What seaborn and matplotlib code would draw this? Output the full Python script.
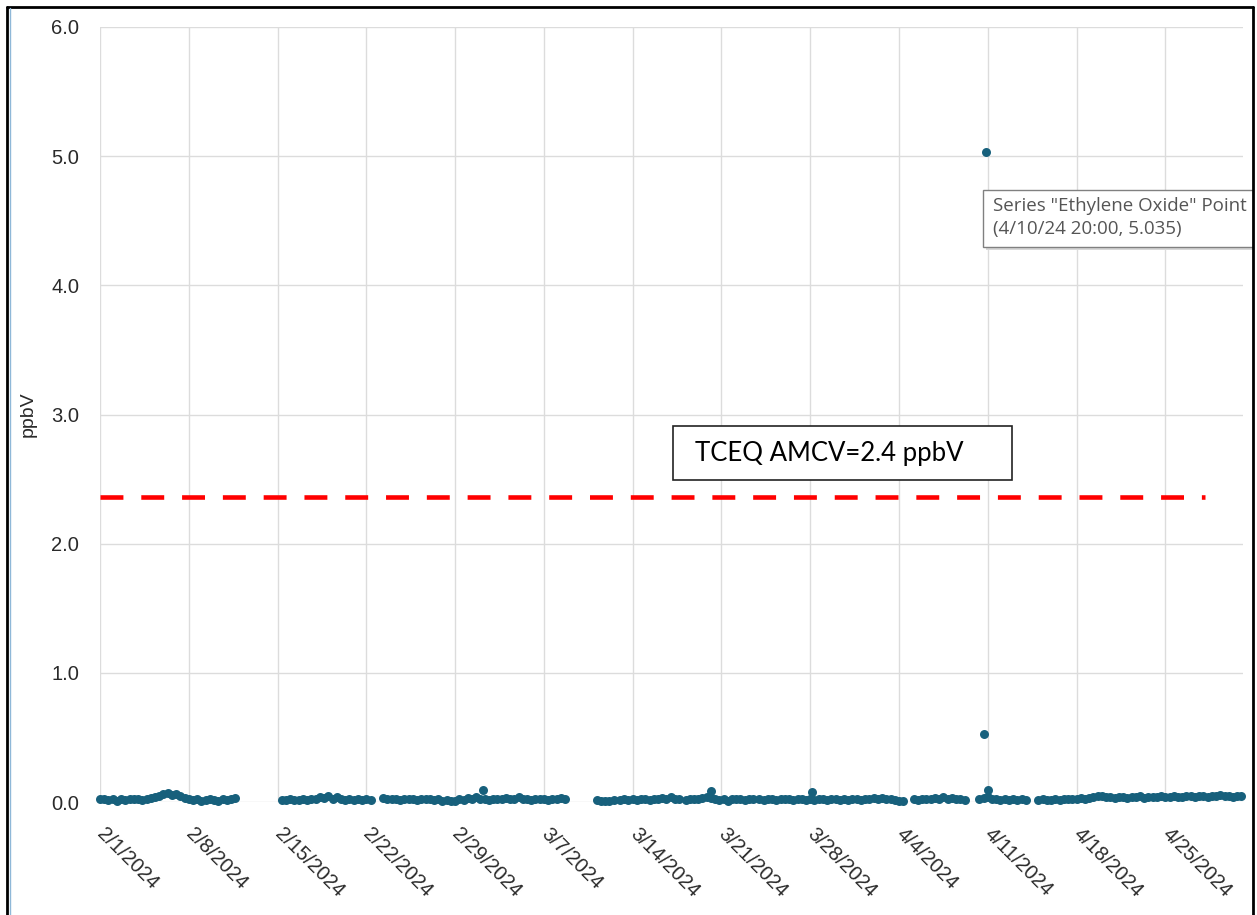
import pandas as pd
import numpy as np
import matplotlib
matplotlib.use('Agg')
import matplotlib.pyplot as plt
import matplotlib.patches as mpatches
from matplotlib.lines import Line2D
import seaborn as sns

# ethylene oxide readings (ppbV), one list per continuous run, 8 h apart
seg_starts = ['2024-02-01 00:00', '2024-02-15 08:00', '2024-02-23 08:00', '2024-03-11 04:00',
              '2024-03-13 00:00', '2024-03-18 04:00', '2024-03-24 00:00', '2024-04-05 04:00',
              '2024-04-10 08:00', '2024-04-15 00:00', '2024-04-19 00:00']
seg_values = [
    [0.02, 0.025, 0.015, 0.02, 0.01, 0.02, 0.015, 0.02, 0.025, 0.02, 0.015, 0.02, 0.03, 0.035,
     0.05, 0.065, 0.07, 0.055, 0.065, 0.045, 0.03, 0.02, 0.015, 0.02, 0.01, 0.015, 0.02, 0.015,
     0.01, 0.02, 0.015, 0.025, 0.03],
    [0.015, 0.015, 0.02, 0.015, 0.015, 0.02, 0.015, 0.02, 0.025, 0.04, 0.03, 0.045, 0.02, 0.035,
     0.02, 0.015, 0.02, 0.015, 0.02, 0.015, 0.02, 0.015],
    [0.03, 0.02, 0.025, 0.02, 0.015, 0.02, 0.025, 0.02, 0.015, 0.02, 0.025, 0.02, 0.015, 0.02,
     0.01, 0.015, 0.005, 0.01, 0.02, 0.015, 0.03, 0.02, 0.035, 0.025, 0.02, 0.015, 0.02, 0.025,
     0.02, 0.03, 0.025, 0.02, 0.035, 0.025, 0.02, 0.015, 0.02, 0.025, 0.02, 0.015, 0.02, 0.025,
     0.03, 0.025],
    [0.015, 0.01, 0.005, 0.01, 0.015],
    [0.015, 0.02, 0.015, 0.02, 0.015, 0.02, 0.02, 0.015, 0.02, 0.025, 0.03, 0.02, 0.035, 0.025, 0.02],
    [0.015, 0.02, 0.025, 0.02, 0.03, 0.04, 0.03, 0.02, 0.015, 0.02, 0.01, 0.02, 0.025, 0.02,
     0.015, 0.02, 0.02],
    [0.02, 0.015, 0.02, 0.02, 0.015, 0.02, 0.025, 0.02, 0.015, 0.02, 0.02, 0.015, 0.02, 0.015,
     0.02, 0.02, 0.015, 0.02, 0.02, 0.015, 0.02, 0.015, 0.02, 0.02, 0.015, 0.02, 0.025, 0.03,
     0.02, 0.03, 0.025, 0.02, 0.015, 0.01, 0.005],
    [0.02, 0.015, 0.02, 0.025, 0.02, 0.03, 0.025, 0.035, 0.02, 0.03, 0.025, 0.02, 0.015],
    [0.02, 0.03, 0.04, 0.025, 0.02, 0.015, 0.02, 0.015, 0.02, 0.015, 0.02, 0.015],
    [0.015, 0.02, 0.015, 0.015, 0.02, 0.015, 0.02, 0.02, 0.025, 0.02, 0.03, 0.025],
    [0.03, 0.04, 0.05, 0.045, 0.035, 0.04, 0.03, 0.035, 0.04, 0.03, 0.04, 0.035, 0.045, 0.03,
     0.04, 0.035, 0.04, 0.045, 0.035, 0.04, 0.045, 0.04, 0.035, 0.045, 0.05, 0.04, 0.045, 0.05,
     0.04, 0.045, 0.05, 0.055, 0.045, 0.05, 0.04, 0.045, 0.05],
]

# isolated higher readings
spike_times = ['2024-03-02 04:00', '2024-03-20 04:00', '2024-03-28 04:00',
               '2024-04-10 16:00', '2024-04-10 20:00', '2024-04-11 00:00']
spike_values = [0.095, 0.085, 0.08, 0.53, 5.035, 0.09]

tick_labels = ['2/1/2024', '2/8/2024', '2/15/2024', '2/22/2024', '2/29/2024', '3/7/2024',
               '3/14/2024', '3/21/2024', '3/28/2024', '4/4/2024', '4/11/2024', '4/18/2024',
               '4/25/2024']
y_ticks = [0.0, 1.0, 2.0, 3.0, 4.0, 5.0, 6.0]
amcv = 2.36

frames = []
for start, vals in zip(seg_starts, seg_values):
    frames.append(pd.DataFrame({'time': pd.date_range(start, periods=len(vals), freq='8h'),
                                'ppbV': vals}))
frames.append(pd.DataFrame({'time': pd.to_datetime(spike_times), 'ppbV': spike_values}))
df = pd.concat(frames, ignore_index=True)

sns.set_style('white')
plt.rcParams['font.family'] = ['Liberation Sans', 'DejaVu Sans']

W, H = 1257, 915
fig = plt.figure(figsize=(W / 100, H / 100), dpi=100)
ax = fig.add_axes([100 / W, 1 - 802 / H, (1243 - 100) / W, (802 - 27) / H])

ax.grid(True, color='#dcdcdc', linewidth=1)
ax.set_axisbelow(True)
for s in ax.spines.values():
    s.set_visible(False)

ax.axhline(amcv, xmin=0, xmax=(1205 - 100) / 1143, color='#ff0000', linewidth=3.3,
           dashes=(5.0, 3.9), zorder=3)

sns.scatterplot(data=df, x='time', y='ppbV', ax=ax, color='#17607c', s=42, linewidth=0,
                clip_on=False, zorder=4)

ax.set_xlim(pd.Timestamp('2024-02-01 00:00'), pd.Timestamp('2024-05-01 03:00'))
ax.set_ylim(0, 6)
ax.set_yticks(y_ticks)
ax.set_yticklabels([f'{v:.1f}' for v in y_ticks], fontsize=14.5, color='#2a2a2a')
ax.set_xticks(pd.to_datetime(tick_labels))
ax.set_xticklabels(tick_labels, fontsize=14.5, color='#2a2a2a', rotation=-45,
                   ha='left', va='center', rotation_mode='anchor')
ax.tick_params(axis='both', length=0)
ax.tick_params(axis='y', pad=15)
ax.tick_params(axis='x', pad=21)
ax.set_xlabel('')
ax.set_ylabel('ppbV', fontsize=14, color='#2a2a2a')
ax.yaxis.set_label_coords(-0.055, 0.5)

def fx(px):
    return px / W

def fy(py):
    return 1 - py / H

# AMCV label box
fig.patches.append(mpatches.Rectangle((fx(673), fy(480)), (1012 - 673) / W, (480 - 426) / H,
                                      transform=fig.transFigure, facecolor='white',
                                      edgecolor='#222222', linewidth=1.2, zorder=5))
fig.text(fx(695), fy(454), 'TCEQ AMCV=2.4 ppbV', fontsize=18.5, family=['Lato', 'DejaVu Sans'],
         va='center', ha='left', color='black', zorder=6)

# hover tooltip
fig.patches.append(mpatches.Rectangle((fx(986), fy(250)), (1270 - 986) / W, (250 - 193) / H,
                                      transform=fig.transFigure, facecolor='#d8d8d8',
                                      edgecolor='none', zorder=5))
fig.patches.append(mpatches.Rectangle((fx(983), fy(247)), (1270 - 983) / W, (247 - 190) / H,
                                      transform=fig.transFigure, facecolor='white',
                                      edgecolor='#808080', linewidth=1, zorder=5))
fig.text(fx(993), fy(206), 'Series "Ethylene Oxide" Point', fontsize=13.5,
         family=['Open Sans', 'DejaVu Sans'], va='center', ha='left', color='#555555', zorder=6)
fig.text(fx(993), fy(229), '(4/10/24 20:00, 5.035)', fontsize=13.5,
         family=['Open Sans', 'DejaVu Sans'], va='center', ha='left', color='#555555', zorder=6)

# screenshot frame
fig.patches.append(mpatches.Rectangle((fx(1254), 0), 5 / W, fy(6), transform=fig.transFigure,
                                      facecolor='white', edgecolor='none', zorder=9))
fig.lines.append(Line2D([fx(7), fx(1253)], [fy(7), fy(7)], transform=fig.transFigure,
                        color='black', linewidth=2, zorder=10))
fig.lines.append(Line2D([fx(7), fx(7)], [fy(7), fy(915)], transform=fig.transFigure,
                        color='black', linewidth=2, zorder=10))
fig.lines.append(Line2D([fx(9.5), fx(9.5)], [fy(8), fy(915)], transform=fig.transFigure,
                        color='#8fb8d8', linewidth=1, zorder=10))
fig.lines.append(Line2D([fx(1253), fx(1253)], [fy(7), fy(915)], transform=fig.transFigure,
                        color='black', linewidth=2, zorder=10))

fig.savefig('out.png', dpi=100)
